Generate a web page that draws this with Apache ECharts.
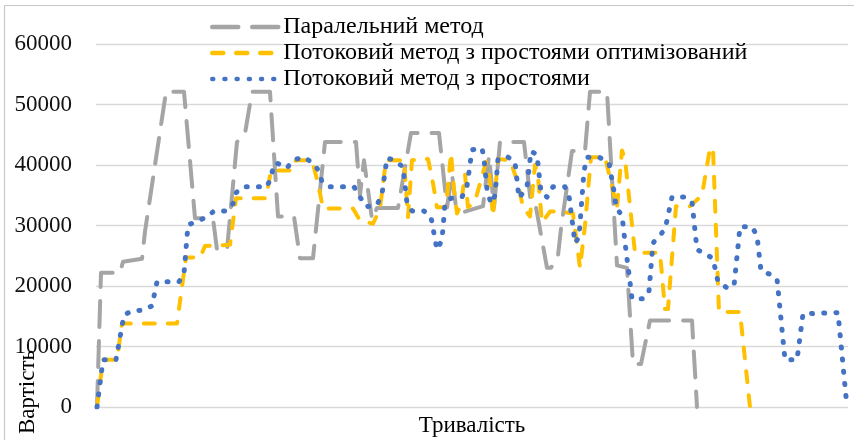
<!DOCTYPE html>
<html>
<head>
<meta charset="utf-8">
<script src="https://cdn.jsdelivr.net/npm/echarts@6/dist/echarts.min.js"></script>
<style>
  html, body { margin: 0; padding: 0; background: #fff; }
  #chart { width: 854px; height: 440px; }
</style>
</head>
<body>
<div id="chart"></div>
<script>
// Cost over duration for three scheduling methods, as [time step, cost] pairs.
const seriesNames = [
  'Паралельний метод',
  'Потоковий метод з простоями оптимізований',
  'Потоковий метод з простоями'
];

const parallelCost = [
  [0.25, 0], [1.25, 22200], [6, 22200], [6.75, 24000], [11.5, 24500], [12.25, 29000],
  [17.5, 52100], [22, 52100], [24.75, 31200], [29.25, 31200], [30.25, 26000], [32.75, 26000],
  [35.25, 43800], [37.25, 45200], [39, 52100], [43.5, 52100], [45.5, 31500], [49.5, 31500],
  [51, 24600], [54.25, 24600], [57.25, 43800], [65, 43800], [66, 35000], [67, 40800],
  [69, 31000], [70.25, 32900], [75.5, 32900], [78.75, 45300], [85.75, 45300], [87.75, 33000],
  [89, 38500], [90, 33000], [91.75, 32200], [96.75, 33200], [98.25, 41500], [99.5, 33000],
  [101, 43800], [107, 43800], [108.75, 33500], [110, 33000], [112.75, 23000], [113.75, 23000],
  [115.5, 25000], [116.25, 29500], [119, 42300], [122.25, 42300], [123.5, 52100], [127.75, 52100],
  [130.25, 23400], [132.75, 23000], [134.25, 7100], [136.25, 7100], [138.5, 14300], [149, 14300],
  [150.25, 0]
];

const optimizedCost = [
  [0.25, 0], [1.75, 7800], [5.25, 7800], [6.5, 13800], [20.25, 13800], [22.5, 24700],
  [26, 24700], [27.25, 26600], [33.5, 26800], [35, 34500], [42.5, 34500], [43.75, 39100],
  [49, 39100], [50, 40800], [54, 40800], [55.5, 37000], [56.75, 32800], [64.25, 32800],
  [66, 30800], [69.25, 30300], [71, 32800], [72.5, 40800], [77, 40800], [78, 31400],
  [79, 40800], [83, 41000], [84.25, 37000], [85.25, 33000], [87.5, 33000], [88.75, 42000],
  [89.5, 36000], [90.25, 32000], [91.25, 33500], [92.25, 38500], [93, 33000], [94.75, 34000],
  [97.5, 40500], [98.25, 39000], [99.25, 31500], [100.5, 41000], [103.5, 40800], [105.5, 37000],
  [106.75, 33000], [108.5, 31500], [109.75, 40000], [110.5, 38000], [111.5, 30500], [113.5, 32300],
  [116, 32300], [119.25, 32000], [121, 23000], [122.25, 30000], [123.75, 41300], [127.25, 41300],
  [130.25, 33000], [131.5, 42400], [132.25, 41000], [134.75, 25500], [141, 25500], [142.25, 16200],
  [143, 16200], [145, 33200], [148.5, 33200], [151.5, 35000], [153.5, 42800], [154.25, 42800],
  [155.75, 15700], [161, 15700], [163.5, 0]
];

const idleCost = [
  [0.25, 0], [1.75, 7800], [5, 7800], [7, 15200], [9, 15900], [11.75, 16000],
  [14, 16700], [15.25, 20700], [20.75, 20700], [22, 22100], [23, 30100], [25.25, 30700],
  [27.75, 31400], [29.5, 32400], [32.75, 32400], [34.25, 33600], [35, 35400], [36.75, 36400],
  [42.75, 36400], [43.75, 38000], [44.5, 40200], [45.25, 40300], [47.75, 39500], [49.25, 40800],
  [52, 41300], [54.25, 40300], [55.75, 39000], [56.5, 37200], [58.5, 36400], [64.5, 36400],
  [66, 34700], [67.5, 33100], [70.25, 33400], [71.5, 35200], [72.75, 41200], [74.75, 40700],
  [76.75, 39700], [77.75, 33700], [79, 32400], [82, 32400], [83.75, 31400], [85.25, 26000],
  [86.5, 27600], [87.25, 33600], [88.75, 34500], [91.5, 34700], [92.75, 36500], [94, 42500],
  [96.5, 42800], [97, 41000], [97.75, 36000], [98.75, 33600], [99.75, 35000], [100.5, 41000],
  [103, 41300], [104.75, 40500], [105.75, 34500], [107.75, 36400], [108.75, 42300], [110.25, 41700],
  [111.25, 35500], [112.75, 34700], [114.25, 36400], [117.25, 36400], [118.25, 34900], [119.75, 27100],
  [120.75, 28100], [122, 39000], [122.75, 41300], [125.75, 41300], [128.25, 40300], [129.75, 34700],
  [130, 32900], [131.5, 31700], [132.5, 25800], [133.25, 22000], [134, 17900], [137, 17900],
  [138.25, 19200], [139.25, 27100], [140.75, 28300], [142.25, 29300], [144, 34700], [147.25, 34700],
  [149, 33900], [150.25, 26000], [152.25, 25400], [154.25, 24500], [155.5, 20700], [157.75, 19700],
  [159.5, 20000], [161, 29800], [164, 29800], [165.25, 28300], [166.25, 22500], [168.25, 22000],
  [170.25, 21200], [172.25, 7800], [175.25, 7800], [176.75, 15400], [185.5, 15600], [187.75, 0]
];

const durationMax = 188;
const costTicks = { min: 0, max: 60000, step: 10000 };

const serif = '"Liberation Serif", "Times New Roman", serif';

function lineSeries(name, data, color, dash, width) {
  return {
    name: name,
    type: 'line',
    data: data,
    showSymbol: false,
    symbol: 'none',
    animation: false,
    lineStyle: { color: color, width: width, type: dash, cap: 'round', join: 'round' },
    itemStyle: { color: color }
  };
}

const chart = echarts.init(document.getElementById('chart'), null, { renderer: 'canvas' });
chart.setOption({
  animation: false,
  backgroundColor: '#fff',
  grid: { left: 96, right: 6, top: 44, bottom: 33, containLabel: false, outerBoundsMode: 'none' },
  legend: {
    orient: 'vertical',
    left: 205,
    top: 10,
    itemWidth: 70,
    itemHeight: 14,
    itemGap: 2,
    data: seriesNames,
    itemStyle: { opacity: 0 },
    lineStyle: { width: 4.5 },
    textStyle: { fontFamily: serif, fontSize: 24, color: '#000', lineHeight: 21, padding: [0, 0, 0, -4] }
  },
  xAxis: {
    type: 'value',
    min: 0,
    max: durationMax,
    name: 'Тривалість',
    nameLocation: 'middle',
    nameGap: 7,
    nameTextStyle: { fontFamily: serif, fontSize: 23, color: '#000' },
    axisLine: { show: false },
    axisTick: { show: false },
    axisLabel: { show: false },
    splitLine: { show: false }
  },
  yAxis: {
    type: 'value',
    min: costTicks.min,
    max: costTicks.max,
    interval: costTicks.step,
    axisLine: { show: false },
    axisTick: { show: false },
    axisLabel: {
      fontFamily: serif, fontSize: 23, color: '#111', margin: 24,
      formatter: function (v) { return String(v); }
    },
    splitLine: { lineStyle: { color: '#d9d9d9', width: 1.3 } }
  },
  graphic: [
    {
      type: 'rect',
      shape: { x: 4.5, y: 5.5, width: 900, height: 500 },
      style: { fill: 'none', stroke: '#c8c8c8', lineWidth: 1.2 },
      silent: true
    },
    {
      type: 'text',
      x: 28,
      y: 392,
      rotation: Math.PI / 2,
      style: {
        text: 'Вартість',
        font: '23px ' + serif,
        fill: '#000',
        textAlign: 'center',
        textVerticalAlign: 'middle'
      },
      z: 10
    }
  ],
  series: [
    lineSeries(seriesNames[0], parallelCost, '#a5a5a5', [26, 14], 4),
    lineSeries(seriesNames[1], optimizedCost, '#ffc000', [11, 13], 4),
    lineSeries(seriesNames[2], idleCost, '#4472c4', [1, 11.2], 5)
  ]
});
</script>
</body>
</html>
